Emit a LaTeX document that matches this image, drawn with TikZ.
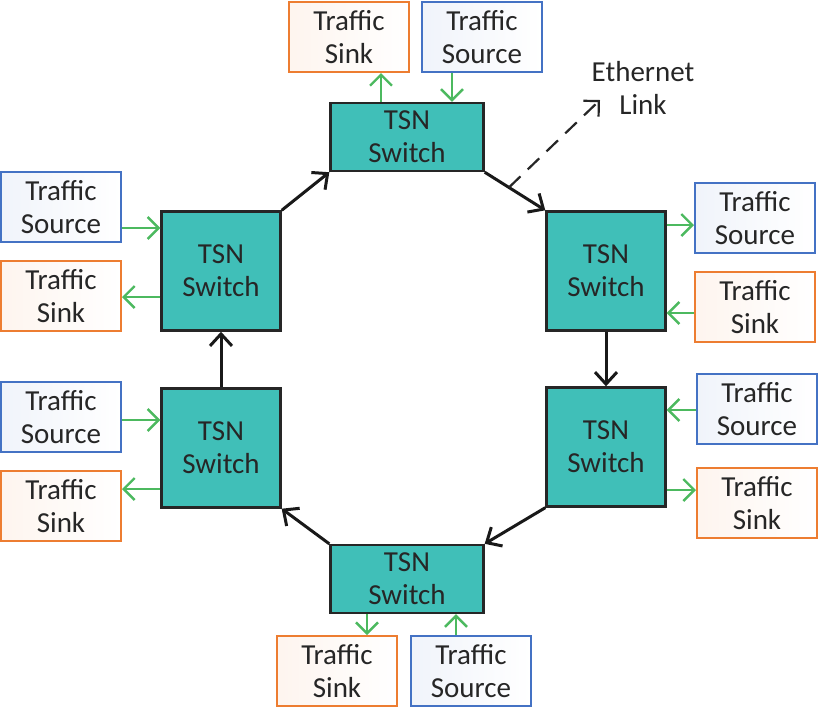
\documentclass[tikz,border=0pt]{standalone}
\usepackage{fontspec}
\setmainfont{Carlito}
\usetikzlibrary{arrows.meta,calc}
\definecolor{tsnTeal}{RGB}{64,191,184}
\definecolor{srcBlue}{RGB}{68,114,196}
\definecolor{sinkOrange}{RGB}{237,125,49}
\definecolor{feedGreen}{RGB}{76,185,95}
\definecolor{txtGray}{RGB}{38,38,38}
\begin{document}
\begin{tikzpicture}[x=0.5pt, y=-0.5pt,
  every node/.style={font=\fontsize{14.5}{16.5}\selectfont, text=txtGray, align=center},
  switch/.style={draw=black!85, line width=1.2pt, fill=tsnTeal, inner sep=0pt},
  sqswitch/.style={switch, minimum width=59.5pt, minimum height=59.5pt},
  wideswitch/.style={switch, minimum width=76.5pt, minimum height=34pt},
  tbox/.style={line width=1pt, inner sep=0pt, minimum width=60pt, minimum height=35pt},
  srcbox/.style={tbox, draw=srcBlue, left color=srcBlue!8, right color=white},
  sinkbox/.style={tbox, draw=sinkOrange, left color=sinkOrange!8, right color=white},
  ring/.style={line width=1.5pt, black!90, -{Straight Barb[length=6pt, width=11pt, line width=1.5pt]}},
  feed/.style={line width=1.2pt, feedGreen, -{Straight Barb[length=5.5pt, width=11pt, line width=1.2pt]}}]
\useasboundingbox (0,0) rectangle (820,709);
% switches, clockwise from the top
\node[wideswitch] (sw-t)  at (407,137) {TSN\\Switch};
\node[sqswitch]   (sw-ru) at (606,271) {TSN\\Switch};
\node[sqswitch]   (sw-rl) at (606,447) {TSN\\Switch};
\node[wideswitch] (sw-b)  at (407,579) {TSN\\Switch};
\node[sqswitch]   (sw-ll) at (221,448) {TSN\\Switch};
\node[sqswitch]   (sw-lu) at (221,271) {TSN\\Switch};
% end stations
\node[sinkbox] (snk-t)  at (349,37)  {Traffic\\Sink};
\node[srcbox]  (src-t)  at (482,37)  {Traffic\\Source};
\node[srcbox]  (src-ru) at (755,218) {Traffic\\Source};
\node[sinkbox] (snk-ru) at (755,307) {Traffic\\Sink};
\node[srcbox]  (src-rl) at (757,409) {Traffic\\Source};
\node[sinkbox] (snk-rl) at (757,503) {Traffic\\Sink};
\node[sinkbox] (snk-b)  at (337,671) {Traffic\\Sink};
\node[srcbox]  (src-b)  at (471,671) {Traffic\\Source};
\node[srcbox]  (src-ll) at (61,417)  {Traffic\\Source};
\node[sinkbox] (snk-ll) at (61,506)  {Traffic\\Sink};
\node[srcbox]  (src-lu) at (61,207)  {Traffic\\Source};
\node[sinkbox] (snk-lu) at (61,296)  {Traffic\\Sink};
% ring of ethernet links
\draw[ring] (sw-lu.north east) -- (sw-t.south west);
\draw[ring] (sw-t.south east) -- (sw-ru.north west);
\draw[ring] (sw-ru.south) -- (sw-rl.north);
\draw[ring] (sw-rl.south west) -- (sw-b.north east);
\draw[ring] (sw-b.north west) -- (sw-ll.south east);
\draw[ring] (sw-ll.north) -- (sw-lu.south);
% traffic in and out
\draw[feed] (sw-t.north -| 381,0) -- (snk-t.south -| 381,0);
\draw[feed] (src-t.south -| 452,0) -- (sw-t.north -| 452,0);
\draw[feed] (sw-ru.east |- 0,225) -- (src-ru.west |- 0,225);
\draw[feed] (snk-ru.west |- 0,313) -- (sw-ru.east |- 0,313);
\draw[feed] (src-rl.west |- 0,410) -- (sw-rl.east |- 0,410);
\draw[feed] (sw-rl.east |- 0,490) -- (snk-rl.west |- 0,490);
\draw[feed] (sw-b.south -| 367,0) -- (snk-b.north -| 367,0);
\draw[feed] (src-b.north -| 456,0) -- (sw-b.south -| 456,0);
\draw[feed] (src-ll.east |- 0,420) -- (sw-ll.west |- 0,420);
\draw[feed] (sw-ll.west |- 0,489) -- (snk-ll.east |- 0,489);
\draw[feed] (src-lu.east |- 0,228) -- (sw-lu.west |- 0,228);
\draw[feed] (sw-lu.west |- 0,297) -- (snk-lu.east |- 0,297);
% link label
\coordinate (lnk-tip) at (600,100);
\node (lnk-lbl) at (643,88) {Ethernet\\Link};
\draw[line width=1.1pt, black!85, dash pattern=on 8pt off 5pt, -{Straight Barb[length=5.5pt, width=11pt, line width=1.1pt]}]
  ($(sw-t.south east)!0.4!(sw-ru.north west)$) -- (lnk-tip);
\end{tikzpicture}
\end{document}
